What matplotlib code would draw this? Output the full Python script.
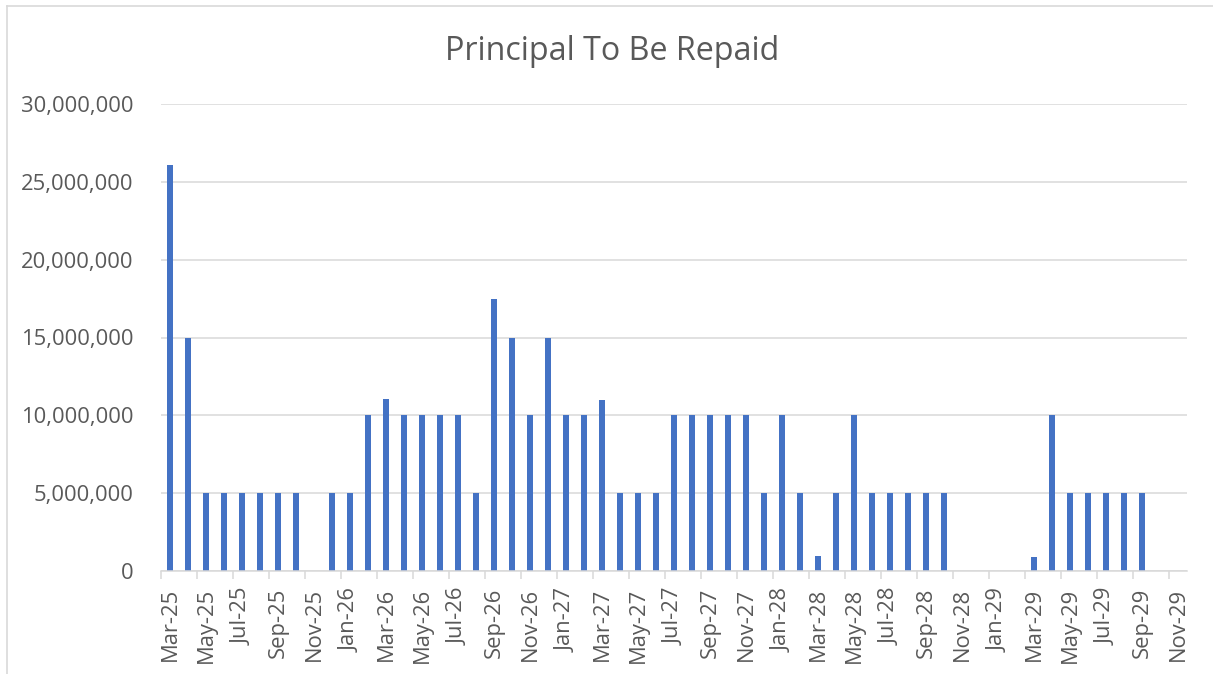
import matplotlib
matplotlib.use("Agg")
import matplotlib.pyplot as plt
import matplotlib.ticker as mticker
from matplotlib.lines import Line2D
import numpy as np
import pandas as pd

# monthly repayments Mar-25 .. Nov-29
months = pd.date_range("2025-03-01", "2029-11-01", freq="MS")
month_labels = [m.strftime("%b-%y") for m in months]

principal = [
    26100000, 15000000, 5000000, 5000000, 5000000, 5000000, 5000000, 5000000,  # Mar-25 .. Oct-25
    0, 5000000, 5000000, 10000000, 11050000, 10000000, 10000000, 10000000,      # Nov-25 .. Jun-26
    10000000, 5000000, 17500000, 15000000, 10000000, 15000000, 10000000,        # Jul-26 .. Jan-27
    10000000, 11000000, 5000000, 5000000, 5000000, 10000000, 10000000,          # Feb-27 .. Aug-27
    10000000, 10000000, 10000000, 5000000, 10000000, 5000000, 960000,           # Sep-27 .. Mar-28
    5000000, 10000000, 5000000, 5000000, 5000000, 5000000, 5000000,             # Apr-28 .. Oct-28
    0, 0, 0, 0, 920000, 10000000, 5000000, 5000000, 5000000, 5000000, 5000000,  # Nov-28 .. Sep-29
    0, 0,                                                                       # Oct-29 .. Nov-29
]

TEXT = "#595959"
GRID = "#d9d9d9"
BAR = "#4472c4"

plt.rcParams["font.family"] = ["Open Sans", "DejaVu Sans"]

fig = plt.figure(figsize=(12.13, 6.74), dpi=100)
ax = fig.add_axes([161 / 1213, 1 - 571 / 674, 1026 / 1213, 467 / 674])

x = np.arange(len(principal))
ax.bar(x, principal, width=0.3, color=BAR, zorder=3)

ax.set_xlim(-0.5, len(principal) - 0.5)
ax.set_ylim(0, 30000000)
ax.yaxis.set_major_locator(mticker.MultipleLocator(5000000))
ax.yaxis.set_major_formatter(mticker.FuncFormatter(lambda v, p: f"{int(v):,}"))
ax.grid(axis="y", color=GRID, linewidth=1.1, zorder=0)

ax.set_xticks(x[::2])
ax.set_xticklabels(month_labels[::2], rotation=90)
ax.set_xticks(np.arange(-0.5, len(principal), 2), minor=True)
ax.tick_params(axis="x", which="major", length=0, pad=12, labelsize=15.8, colors=TEXT)
ax.tick_params(axis="x", which="minor", length=6, width=1.1, color=GRID)
ax.tick_params(axis="y", length=0, pad=20, labelsize=15.8, colors=TEXT)

for side in ["top", "right", "left"]:
    ax.spines[side].set_visible(False)
ax.spines["bottom"].set_color(GRID)
ax.spines["bottom"].set_linewidth(1.1)
ax.spines["bottom"].set_zorder(4)

fig.text(612 / 1213, 1 - 51 / 674, "Principal To Be Repaid", ha="center", va="center",
         fontsize=23.2, color=TEXT)

# chart area border (left and top edges visible in the crop)
fig.add_artist(Line2D([7 / 1213, 7 / 1213], [0, 1 - 6 / 674], color=GRID, linewidth=1.2))
fig.add_artist(Line2D([7 / 1213, 1], [1 - 6 / 674, 1 - 6 / 674], color=GRID, linewidth=1.2))

fig.savefig("out.png", dpi=100, facecolor="white")
